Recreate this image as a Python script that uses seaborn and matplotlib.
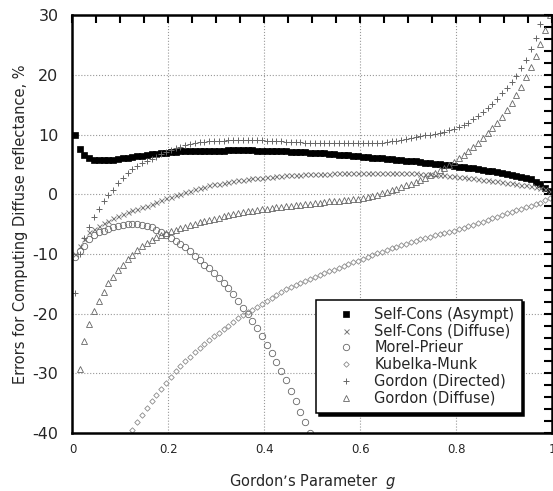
import numpy as np
import pandas as pd
import matplotlib
matplotlib.use("Agg")
import matplotlib.pyplot as plt
import seaborn as sns
from matplotlib.ticker import MultipleLocator

# Gordon's parameter g (sampling grid of the computed curves)
G = [0.005, 0.015, 0.025, 0.035, 0.045, 0.055, 0.065, 0.075, 0.085, 0.095,
     0.105, 0.115, 0.125, 0.135, 0.145, 0.155, 0.165, 0.175, 0.185, 0.195,
     0.205, 0.215, 0.225, 0.235, 0.245, 0.255, 0.265, 0.275, 0.285, 0.295,
     0.305, 0.315, 0.325, 0.335, 0.345, 0.355, 0.365, 0.375, 0.385, 0.395,
     0.405, 0.415, 0.425, 0.435, 0.445, 0.455, 0.465, 0.475, 0.485, 0.495,
     0.505, 0.515, 0.525, 0.535, 0.545, 0.555, 0.565, 0.575, 0.585, 0.595,
     0.605, 0.615, 0.625, 0.635, 0.645, 0.655, 0.665, 0.675, 0.685, 0.695,
     0.705, 0.715, 0.725, 0.735, 0.745, 0.755, 0.765, 0.775, 0.785, 0.795,
     0.805, 0.815, 0.825, 0.835, 0.845, 0.855, 0.865, 0.875, 0.885, 0.895,
     0.905, 0.915, 0.925, 0.935, 0.945, 0.955, 0.965, 0.975, 0.985, 0.995]

nan = np.nan

self_cons_asympt = [
    9.9, 7.6, 6.5, 6.0, 5.75, 5.7, 5.7, 5.75, 5.8, 5.9,
    6.0, 6.1, 6.25, 6.35, 6.45, 6.6, 6.7, 6.8, 6.9, 7.0,
    7.1, 7.15, 7.2, 7.25, 7.3, 7.3, 7.3, 7.3, 7.3, 7.3,
    7.32, 7.33, 7.34, 7.34, 7.35, 7.35, 7.34, 7.34, 7.33, 7.32,
    7.3, 7.28, 7.25, 7.22, 7.2, 7.15, 7.12, 7.1, 7.05, 7.0,
    6.95, 6.9, 6.85, 6.8, 6.75, 6.65, 6.6, 6.5, 6.45, 6.35,
    6.3, 6.25, 6.15, 6.1, 6.0, 5.95, 5.85, 5.8, 5.7, 5.65,
    5.55, 5.5, 5.4, 5.3, 5.2, 5.1, 5.05, 4.95, 4.85, 4.75,
    4.65, 4.55, 4.45, 4.35, 4.2, 4.1, 3.95, 3.85, 3.7, 3.55,
    3.4, 3.25, 3.1, 2.9, 2.7, 2.5, 2.1, 1.7, 1.1, 0.6]

self_cons_diffuse = [
    -10.0, -8.7, -7.5, -6.4, -5.8, -5.3, -4.8, -4.4, -4.0, -3.7,
    -3.3, -3.0, -2.7, -2.4, -2.1, -1.9, -1.6, -1.3, -1.0, -0.7,
    -0.4, -0.2, 0.1, 0.35, 0.6, 0.85, 1.1, 1.3, 1.5, 1.65,
    1.8, 1.95, 2.1, 2.2, 2.35, 2.45, 2.55, 2.65, 2.75, 2.8,
    2.9, 2.95, 3.05, 3.1, 3.15, 3.2, 3.25, 3.3, 3.35, 3.4,
    3.42, 3.44, 3.46, 3.48, 3.5, 3.52, 3.53, 3.54, 3.55, 3.55,
    3.56, 3.56, 3.57, 3.57, 3.57, 3.57, 3.56, 3.56, 3.55, 3.54,
    3.52, 3.5, 3.45, 3.4, 3.35, 3.3, 3.25, 3.2, 3.1, 3.0,
    2.95, 2.85, 2.75, 2.65, 2.55, 2.45, 2.35, 2.25, 2.15, 2.05,
    1.95, 1.85, 1.75, 1.6, 1.5, 1.35, 1.2, 1.0, 0.85, 0.6]

morel_prieur = [
    -10.5, -9.5, -8.6, -7.5, -6.8, -6.4, -6.1, -5.8, -5.5, -5.3,
    -5.1, -5.0, -4.95, -4.95, -5.1, -5.3, -5.55, -5.9, -6.3, -6.8,
    -7.3, -7.9, -8.4, -8.9, -9.5, -10.3, -11.0, -11.8, -12.4, -13.2,
    -14.0, -14.8, -15.7, -16.7, -17.9, -19.0, -20.1, -21.2, -22.4, -23.8,
    -25.2, -26.6, -28.1, -29.6, -31.1, -32.9, -34.7, -36.4, -38.2, -40.0,
    -41.8, nan, nan, nan, nan, nan, nan, nan, nan, nan,
    nan, nan, nan, nan, nan, nan, nan, nan, nan, nan,
    nan, nan, nan, nan, nan, nan, nan, nan, nan, nan,
    nan, nan, nan, nan, nan, nan, nan, nan, nan, nan,
    nan, nan, nan, nan, nan, nan, nan, nan, nan, nan]

kubelka_munk = [
    nan, nan, nan, nan, nan, nan, nan, nan, nan, nan,
    nan, -41.0, -39.5, -38.2, -37.0, -35.8, -34.7, -33.6, -32.6, -31.6,
    -30.6, -29.6, -28.8, -28.0, -27.2, -26.4, -25.7, -25.0, -24.4, -23.8,
    -23.2, -22.6, -22.0, -21.4, -20.8, -20.3, -19.8, -19.3, -18.8, -18.3,
    -17.8, -17.3, -16.8, -16.3, -15.9, -15.55, -15.2, -14.85, -14.5, -14.2,
    -13.85, -13.5, -13.2, -12.9, -12.6, -12.3, -12.0, -11.7, -11.4, -11.1,
    -10.8, -10.5, -10.2, -9.9, -9.6, -9.3, -9.0, -8.75, -8.5, -8.25,
    -8.0, -7.75, -7.5, -7.3, -7.1, -6.9, -6.7, -6.5, -6.3, -6.1,
    -5.85, -5.6, -5.35, -5.1, -4.85, -4.6, -4.3, -4.0, -3.75, -3.5,
    -3.2, -2.95, -2.7, -2.45, -2.2, -1.95, -1.7, -1.4, -1.0, -0.6]

gordon_directed = [
    -16.5, -10.0, -7.3, -5.5, -3.8, -2.5, -1.2, -0.2, 0.8, 1.9,
    2.7, 3.5, 4.2, 4.7, 5.2, 5.5, 5.9, 6.3, 6.7, 7.1,
    7.4, 7.7, 8.0, 8.2, 8.4, 8.55, 8.7, 8.8, 8.9, 8.95,
    9.0, 9.0, 9.02, 9.03, 9.04, 9.05, 9.05, 9.04, 9.03, 9.02,
    9.0, 8.95, 8.9, 8.85, 8.8, 8.75, 8.7, 8.7, 8.65, 8.6,
    8.6, 8.58, 8.56, 8.55, 8.55, 8.55, 8.55, 8.56, 8.57, 8.58,
    8.6, 8.6, 8.6, 8.6, 8.65, 8.75, 8.85, 8.95, 9.1, 9.25,
    9.4, 9.55, 9.7, 9.85, 10.0, 10.15, 10.3, 10.5, 10.7, 10.9,
    11.2, 11.6, 12.0, 12.6, 13.2, 13.8, 14.5, 15.2, 16.0, 16.9,
    17.8, 18.8, 19.8, 21.1, 22.5, 24.3, 26.2, 28.5, 31.0, 33.5]

gordon_diffuse = [
    nan, -29.3, -24.6, -21.7, -19.6, -17.8, -16.3, -14.9, -13.8, -12.7,
    -11.9, -10.9, -10.1, -9.4, -8.7, -8.1, -7.6, -7.2, -6.8, -6.5,
    -6.2, -5.9, -5.6, -5.4, -5.2, -4.9, -4.7, -4.5, -4.3, -4.1,
    -3.9, -3.7, -3.5, -3.3, -3.1, -3.0, -2.85, -2.75, -2.6, -2.5,
    -2.4, -2.3, -2.2, -2.1, -2.0, -1.95, -1.85, -1.75, -1.65, -1.55,
    -1.45, -1.4, -1.3, -1.2, -1.15, -1.05, -0.95, -0.9, -0.8, -0.75,
    -0.65, -0.5, -0.3, -0.05, 0.2, 0.45, 0.7, 0.95, 1.2, 1.5,
    1.8, 2.1, 2.45, 2.8, 3.2, 3.6, 4.0, 4.45, 4.9, 5.4,
    6.0, 6.6, 7.2, 7.9, 8.6, 9.4, 10.2, 11.1, 12.0, 13.0,
    14.1, 15.3, 16.6, 18.0, 19.6, 21.3, 23.2, 25.2, 27.5, 30.0]

series = [
    ("Self-Cons (Asympt)", self_cons_asympt, dict(marker="s", ms=4.6, mfc="black", mec="black", mew=0.5)),
    ("Self-Cons (Diffuse)", self_cons_diffuse, dict(marker="x", ms=3.6, mec="#7a7a7a", mew=0.7)),
    ("Morel-Prieur", morel_prieur, dict(marker="o", ms=4.6, mfc="none", mec="#666666", mew=0.6)),
    ("Kubelka-Munk", kubelka_munk, dict(marker="D", ms=2.8, mfc="none", mec="#8a8a8a", mew=0.6)),
    ("Gordon (Directed)", gordon_directed, dict(marker="+", ms=4.8, mec="#666666", mew=0.7)),
    ("Gordon (Diffuse)", gordon_diffuse, dict(marker="^", ms=4.6, mfc="none", mec="#666666", mew=0.6)),
]

sns.set_theme(style="white")
plt.rcParams['font.family'] = ['DejaVu Sans']
plt.rcParams['axes.unicode_minus'] = False

fig = plt.figure(figsize=(5.53, 4.91), dpi=100)
ax = fig.add_axes([0.131, 0.118, 0.868, 0.851])

for name, vals, style in series:
    df = pd.DataFrame({"g": G, "err": vals}).dropna()
    sns.lineplot(data=df, x="g", y="err", ax=ax, linestyle="none",
                 label=name, sort=False, **style)

ax.set_xlim(0, 1)
ax.set_ylim(-40, 30)
ax.xaxis.set_major_locator(MultipleLocator(0.2))
ax.xaxis.set_minor_locator(MultipleLocator(0.05))
ax.yaxis.set_major_locator(MultipleLocator(10))
ax.yaxis.set_minor_locator(MultipleLocator(2))
ax.set_xticks([0, 0.2, 0.4, 0.6, 0.8, 1.0])
ax.set_xticklabels(["0", "0.2", "0.4", "0.6", "0.8", "1"])

ax.grid(True, which="major", color="#999999", linestyle=":", linewidth=0.8)
for sp in ax.spines.values():
    sp.set_linewidth(1.8)
    sp.set_color("black")
ax.tick_params(which="both", direction="in", top=True, right=True,
               length=6, width=1.5, color="black")
ax.tick_params(axis="y", which="major", labelsize=11.5, pad=10)
ax.tick_params(axis="x", which="major", labelsize=8.5, pad=7)

ax.set_xlabel("Gordon\u2019s Parameter  $\\it{g}$", fontsize=10.5, labelpad=12)
ax.set_ylabel("Errors for Computing Diffuse reflectance, %", fontsize=10.5, labelpad=3)

leg = ax.legend(loc="lower left", bbox_to_anchor=(0.507, 0.048), borderaxespad=0,
                fontsize=10.5, numpoints=1, handlelength=3.2, handletextpad=0.3,
                labelspacing=0.12, borderpad=0.5, fancybox=False,
                shadow={"color": "black", "alpha": 1}, framealpha=1,
                edgecolor="black")
leg.get_frame().set_linewidth(1.1)

fig.savefig("out.png", dpi=100)
